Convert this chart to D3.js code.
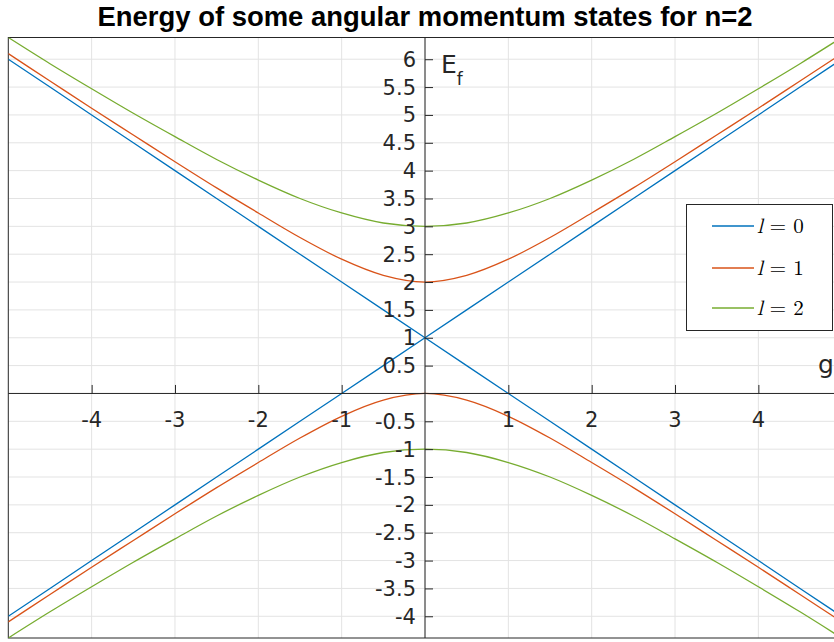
<!DOCTYPE html>
<html>
<head>
<meta charset="utf-8">
<script src="https://cdn.jsdelivr.net/npm/d3@7"></script>
<style>
  html, body { margin: 0; padding: 0; background: #fff; }
  svg { display: block; }
</style>
</head>
<body>
<svg id="chart" width="834" height="642"></svg>
<script>
// Coupling values g at which the energies were sampled
const gValues = [-5, -4.5, -4, -3.5, -3, -2.5, -2, -1.5, -1, -0.5, 0,
                 0.5, 1, 1.5, 2, 2.5, 3, 3.5, 4, 4.5, 5];

// Upper and lower energy branches for each angular momentum l
const upperL0 = [6, 5.5, 5, 4.5, 4, 3.5, 3, 2.5, 2, 1.5, 1,
                 1.5, 2, 2.5, 3, 3.5, 4, 4.5, 5, 5.5, 6];
const lowerL0 = [-4, -3.5, -3, -2.5, -2, -1.5, -1, -0.5, 0, 0.5, 1,
                 0.5, 0, -0.5, -1, -1.5, -2, -2.5, -3, -3.5, -4];
const upperL1 = [6.10, 5.61, 5.12, 4.64, 4.16, 3.69, 3.24, 2.80, 2.41, 2.12, 2,
                 2.12, 2.41, 2.80, 3.24, 3.69, 4.16, 4.64, 5.12, 5.61, 6.10];
const lowerL1 = [-4.10, -3.61, -3.12, -2.64, -2.16, -1.69, -1.24, -0.80, -0.41, -0.12, 0,
                 -0.12, -0.41, -0.80, -1.24, -1.69, -2.16, -2.64, -3.12, -3.61, -4.10];
const upperL2 = [6.39, 5.92, 5.47, 5.03, 4.61, 4.20, 3.83, 3.50, 3.24, 3.06, 3,
                 3.06, 3.24, 3.50, 3.83, 4.20, 4.61, 5.03, 5.47, 5.92, 6.39];
const lowerL2 = [-4.39, -3.92, -3.47, -3.03, -2.61, -2.20, -1.83, -1.50, -1.24, -1.06, -1,
                 -1.06, -1.24, -1.50, -1.83, -2.20, -2.61, -3.03, -3.47, -3.92, -4.39];

const seriesNames = ["l = 0", "l = 1", "l = 2"];
const seriesColors = ["#0072BD", "#D95319", "#77AC30"];

const xTickValues = [-4, -3, -2, -1, 1, 2, 3, 4];
const yTickValues = [-4, -3.5, -3, -2.5, -2, -1.5, -1, -0.5,
                     0.5, 1, 1.5, 2, 2.5, 3, 3.5, 4, 4.5, 5, 5.5, 6];
const xGridValues = [-4, -3, -2, -1, 0, 1, 2, 3, 4];
const yGridValues = [-4, -3.5, -3, -2.5, -2, -1.5, -1, -0.5, 0,
                     0.5, 1, 1.5, 2, 2.5, 3, 3.5, 4, 4.5, 5, 5.5, 6];

const titleText = "Energy of some angular momentum states for n=2";

// Plot box (the right side runs past the visible canvas)
const box = { left: 8.3, right: 841.7, top: 37.5, bottom: 638 };
const axisColor = "#262626";
const gridColor = "#e3e3e3";
const font = "'DejaVu Sans', Arial, Helvetica, sans-serif";
const titleFont = "'Liberation Sans', Arial, Helvetica, sans-serif";

const svg = d3.select("#chart");

const allE = [].concat(upperL0, lowerL0, upperL1, lowerL1, upperL2, lowerL2);
const x = d3.scaleLinear().domain(d3.extent(gValues)).range([box.left, box.right]);
const y = d3.scaleLinear().domain(d3.extent(allE)).range([box.bottom, box.top]);

svg.append("defs").append("clipPath").attr("id", "plotClip")
  .append("rect")
  .attr("x", box.left).attr("y", box.top)
  .attr("width", box.right - box.left).attr("height", box.bottom - box.top);

// Grid
const grid = svg.append("g").attr("clip-path", "url(#plotClip)");
grid.selectAll("line.gx").data(xGridValues).join("line")
  .attr("x1", d => x(d)).attr("x2", d => x(d))
  .attr("y1", box.top).attr("y2", box.bottom)
  .attr("stroke", gridColor).attr("stroke-width", 1);
grid.selectAll("line.gy").data(yGridValues).join("line")
  .attr("x1", box.left).attr("x2", box.right)
  .attr("y1", d => y(d)).attr("y2", d => y(d))
  .attr("stroke", gridColor).attr("stroke-width", 1);

// Frame
svg.append("rect")
  .attr("x", box.left).attr("y", box.top)
  .attr("width", box.right - box.left).attr("height", box.bottom - box.top)
  .attr("fill", "none").attr("stroke", axisColor).attr("stroke-width", 1);

// Curves
const branches = [
  { s: 0, values: upperL0 }, { s: 0, values: lowerL0 },
  { s: 1, values: upperL1 }, { s: 1, values: lowerL1 },
  { s: 2, values: upperL2 }, { s: 2, values: lowerL2 }
];
const curves = svg.append("g").attr("clip-path", "url(#plotClip)");
branches.forEach(b => {
  const line = d3.line()
    .x((d, i) => x(gValues[i]))
    .y(d => y(d))
    .curve(b.s === 0 ? d3.curveLinear : d3.curveMonotoneX);
  curves.append("path")
    .attr("d", line(b.values))
    .attr("fill", "none")
    .attr("stroke", seriesColors[b.s])
    .attr("stroke-width", 1.3);
});

// Axes through the origin, ticks pointing inward (up / right)
const xAxis = d3.axisTop(x).tickValues(xTickValues).tickSize(8.5).tickFormat("");
const gx = svg.append("g").attr("transform", `translate(0,${y(0)})`).call(xAxis);
gx.select(".domain").attr("d", `M${box.left},0H${box.right}`);
gx.selectAll("line").attr("stroke", axisColor);
gx.select(".domain").attr("stroke", axisColor);

const yAxis = d3.axisRight(y).tickValues(yTickValues).tickSize(8).tickFormat("");
const gy = svg.append("g").attr("transform", `translate(${x(0)},0)`).call(yAxis);
gy.select(".domain").attr("d", `M0,${box.top}V${box.bottom}`).attr("stroke", axisColor);
gy.selectAll("line").attr("stroke", axisColor);

// Tick labels
svg.append("g").selectAll("text").data(xTickValues).join("text")
  .attr("x", d => x(d)).attr("y", y(0) + 34)
  .attr("text-anchor", "middle")
  .attr("font-family", font).attr("font-size", 21).attr("fill", axisColor)
  .text(d => String(d));

svg.append("g").selectAll("text").data(yTickValues).join("text")
  .attr("x", x(0) - 9).attr("y", d => y(d) + 7.5)
  .attr("text-anchor", "end")
  .attr("font-family", font).attr("font-size", 21).attr("fill", axisColor)
  .text(d => String(d));

// Axis names
svg.append("text").attr("x", 818).attr("y", 373)
  .attr("font-family", font).attr("font-size", 25).attr("fill", axisColor)
  .text("g");
const ef = svg.append("text").attr("x", 441).attr("y", 73)
  .attr("font-family", font).attr("font-size", 25).attr("fill", axisColor);
ef.append("tspan").text("E");
ef.append("tspan").attr("font-size", 17).attr("dy", 12).text("f");

// Title
svg.append("text").attr("x", (box.left + box.right) / 2).attr("y", 26)
  .attr("text-anchor", "middle")
  .attr("font-family", titleFont).attr("font-size", 27).attr("font-weight", "bold")
  .attr("textLength", 655).attr("lengthAdjust", "spacingAndGlyphs")
  .attr("fill", "#000")
  .text(titleText);

// Legend
const legend = svg.append("g");
legend.append("rect")
  .attr("x", 686.5).attr("y", 204.5).attr("width", 146).attr("height", 126)
  .attr("fill", "#fff").attr("stroke", axisColor).attr("stroke-width", 1);
const rowY = [226, 268, 308];
seriesNames.forEach((name, i) => {
  legend.append("line")
    .attr("x1", 712).attr("x2", 754)
    .attr("y1", rowY[i]).attr("y2", rowY[i])
    .attr("stroke", seriesColors[i]).attr("stroke-width", 1.3);
  const [sym, rest] = name.split(" = ");
  const t = legend.append("text").attr("x", 757).attr("y", rowY[i] + 7)
    .attr("font-family", "'Latin Modern Math', 'DejaVu Serif', 'Liberation Serif', serif")
    .attr("font-size", 21).attr("fill", "#000");
  t.append("tspan").attr("font-style", "italic").text(sym);
  t.append("tspan").text(" = " + rest);
});
</script>
</body>
</html>
